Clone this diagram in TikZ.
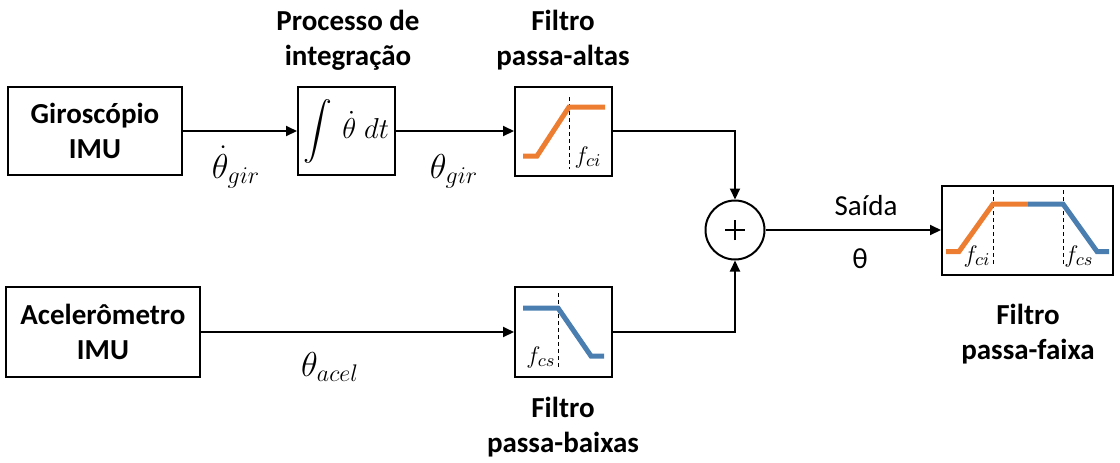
\documentclass[tikz,border=0pt]{standalone}
\usepackage{exscale}
\usepackage{fontspec}
\setmainfont{Carlito}
\usetikzlibrary{arrows.meta}
\definecolor{hpfor}{RGB}{237,125,49}
\definecolor{lpfbl}{RGB}{74,126,176}
\begin{document}
\begin{tikzpicture}[x=0.5pt,y=-0.5pt,
  blk/.style={draw, line width=1pt, inner sep=0pt, align=center},
  ttl/.style={align=center, font=\fontsize{14.5}{17.5}\selectfont\bfseries},
  lbl/.style={font=\fontsize{17.5}{20}\selectfont, inner sep=0pt, anchor=base},
  txt/.style={font=\fontsize{14.5}{17.5}\selectfont, inner sep=0pt, anchor=base},
  conn/.style={line width=1pt, -{Triangle[length=5.5pt,width=5pt]}},
  curve/.style={line width=2.5pt},
  cut/.style={dashed, dash pattern=on 2pt off 1.5pt, line width=0.5pt},
  fl/.style={font=\fontsize{12.5}{14}\selectfont, inner sep=0pt, anchor=base}
]
\useasboundingbox (0,0) rectangle (1120,462);

% blocks
\node[blk, ttl, minimum width=87pt, minimum height=44pt] (gyro) at (95,131) {Giroscópio\\IMU};
\node[blk, minimum width=48.5pt, minimum height=44pt, font=\fontsize{15.5}{18}\selectfont] (integ) at (346.5,131) {$\displaystyle\int\,\dot\theta\;dt$};
\node[blk, minimum width=48.5pt, minimum height=44.5pt] (hpf) at (563.5,131) {};
\node[draw, circle, line width=1pt, minimum size=29.5pt, inner sep=0pt,
  path picture={\draw[line width=1.4pt] (path picture bounding box.center) ++(-5pt,0) -- ++(10pt,0);
                \draw[line width=1.4pt] (path picture bounding box.center) ++(0,-5pt) -- ++(0,10pt);}] (sum) at (735,230) {};
\node[blk, minimum width=85.5pt, minimum height=44.5pt] (bpf) at (1027.5,230) {};
\node[blk, ttl, minimum width=97pt, minimum height=45pt] (acel) at (103,332) {Acelerômetro\\IMU};
\node[blk, minimum width=48.5pt, minimum height=45pt] (lpf) at (563.5,332) {};

% titles
\node[ttl] (tinteg) at (348,40) {Processo de\\integração};
\node[ttl] (thpf) at (563,40) {Filtro\\passa-altas};
\node[ttl] (tlpf) at (563,427) {Filtro\\passa-baixas};
\node[ttl] (tbpf) at (1028,334) {Filtro\\passa-faixa};

% signal labels
\node[lbl] (lgir) at (236,178) {$\dot\theta_{gir}$};
\node[lbl] (lint) at (454,178) {$\theta_{gir}$};
\node[lbl] (lacel) at (330,376) {$\theta_{acel}$};
\node[txt] (lsaida) at (866,215) {Saída};
\node[txt] (ltheta) at (860,268) {θ};

% connectors
\draw[conn] (gyro.east) -- (integ.west);
\draw[conn] (integ.east) -- (hpf.west);
\draw[conn] (hpf.east) -| (sum.north);
\draw[conn] (acel.east) -- (lpf.west);
\draw[conn] (lpf.east) -| (sum.south);
\draw[conn] (sum.east) -- (bpf.west);

% high-pass response
\draw[cut] (569,97) -- (569,169);
\draw[curve, hpfor] (523,156) -- (537,156) -- (569,107) -- (605,107);
\node[fl] (fhpf) at (588,163) {$f_{ci}$};

% low-pass response
\draw[cut] (558,293) -- (558,367);
\draw[curve, lpfbl] (523,308) -- (558,308) -- (591,356) -- (604,356);
\node[fl] (flpf) at (541,363) {$f_{cs}$};

% band-pass response
\draw[cut] (993,190) -- (993,266);
\draw[cut] (1063,190) -- (1063,266);
\draw[curve, hpfor] (946,251.5) -- (959,251.5) -- (993,204) -- (1028,204);
\draw[curve, lpfbl] (1028,204) -- (1063,204) -- (1097,251.5) -- (1109,251.5);
\node[fl] (fbpf1) at (977,262) {$f_{ci}$};
\node[fl] (fbpf2) at (1079,262) {$f_{cs}$};
\end{tikzpicture}
\end{document}
